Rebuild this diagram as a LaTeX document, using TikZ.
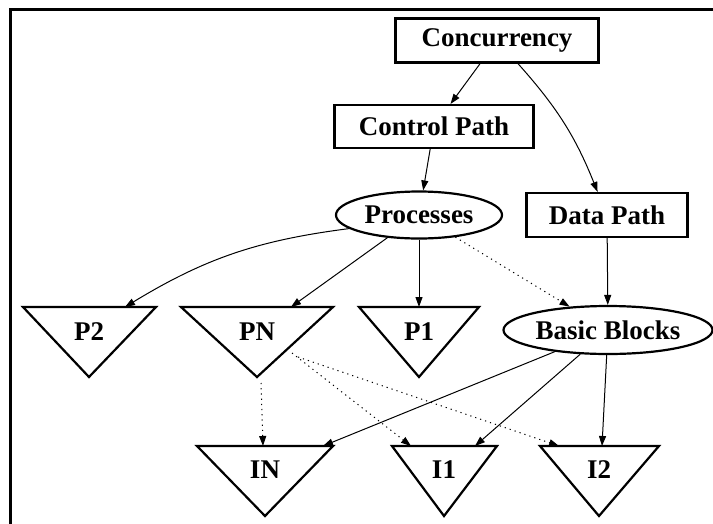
\documentclass[tikz,border=0pt]{standalone}
\usepackage{fontspec}
\setmainfont{Liberation Serif}
\usetikzlibrary{arrows.meta,shapes.geometric}
\begin{document}
\begin{tikzpicture}[x=1pt,y=-1pt,
  lbl/.style={font=\fontsize{27}{30}\selectfont\bfseries, inner sep=0pt},
  boxn/.style={lbl, draw, line width=2.2pt, minimum height=44pt},
  elln/.style={lbl, draw, ellipse, line width=2.2pt, minimum height=47pt},
  triln/.style={line width=2.2pt, line join=miter},
  edge/.style={line width=1pt, -{Triangle[length=10pt,width=7pt]}},
  dotedge/.style={edge, dash pattern=on 1.2pt off 4pt}]
\useasboundingbox (0,0) rectangle (713,523);
\draw[line width=3pt] (10,530) -- (10,9.5) -- (720,9.5);
% nodes
\node[boxn, minimum width=203pt] (conc) at (497,40.5) {Concurrency};
\node[boxn, minimum width=199pt, minimum height=43pt] (ctrl) at (434,126.5) {Control Path};
\node[boxn, minimum width=161pt] (data) at (607,215) {Data Path};
\node[elln, minimum width=166pt] (proc) at (419,215) {Processes};
\node[elln, minimum width=209pt, minimum height=48pt] (bb) at (608,330) {Basic Blocks};
% triangles
\draw[triln] (23,307) -- (156,307) -- (89,377) -- cycle;
\draw[triln] (181,307) -- (333,307) -- (257,377) -- cycle;
\draw[triln] (359,307) -- (479,307) -- (419,377) -- cycle;
\draw[triln] (197,446) -- (333,446) -- (265,516) -- cycle;
\draw[triln] (392,446) -- (497,446) -- (444,516) -- cycle;
\draw[triln] (540,446) -- (659,446) -- (599,516) -- cycle;
\node[lbl] (P2) at (89,332) {P2};
\node[lbl] (PN) at (257,332) {PN};
\node[lbl] (P1) at (419,332) {P1};
\node[lbl] (IN) at (265,470) {IN};
\node[lbl] (I1) at (444,470) {I1};
\node[lbl] (I2) at (599,470) {I2};
% connector end points on the triangles
\coordinate (P2in) at (125,307);
\coordinate (PNin) at (291,307);
\coordinate (P1in) at (419,307);
\coordinate (PNoutA) at (261,383);
\coordinate (PNoutB) at (292,353);
\coordinate (PNoutC) at (298,357);
\coordinate (INinD) at (263,446);
\coordinate (I1inD) at (411,446);
\coordinate (I2inD) at (559,446);
\coordinate (INin) at (323,446);
\coordinate (I1in) at (475,446);
\coordinate (I2in) at (602,446);
% connectors
\draw[edge] (conc) -- (ctrl);
\draw[edge] (conc) to[bend left=10] (data);
\draw[edge] (ctrl) -- (proc);
\draw[edge] (proc.191) to[bend right=12] (P2in);
\draw[edge] (proc) -- (PNin);
\draw[edge] (proc.south) -- (P1in);
\draw[dotedge] (proc) -- (bb);
\draw[edge] (data) -- (bb);
\draw[edge] (bb) -- (INin);
\draw[edge] (bb) -- (I1in);
\draw[edge] (bb) -- (I2in);
\draw[dotedge] (PNoutA) -- (INinD);
\draw[dotedge] (PNoutB) -- (I1inD);
\draw[dotedge] (PNoutC) -- (I2inD);
\end{tikzpicture}
\end{document}
